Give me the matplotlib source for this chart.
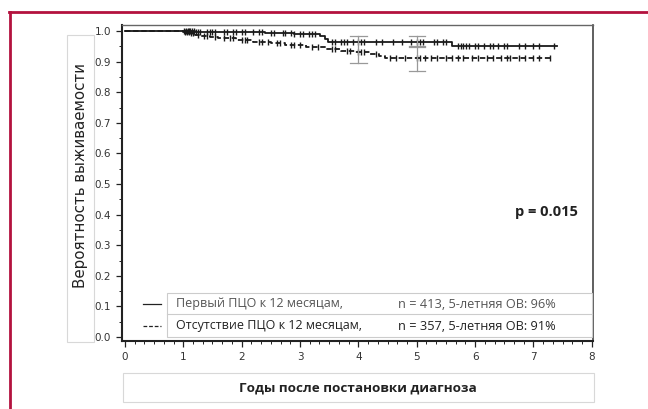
import matplotlib.pyplot as plt
from matplotlib.ticker import MultipleLocator
from matplotlib.patches import Rectangle
from matplotlib.lines import Line2D

# Kaplan-Meier steps, group 1 (first PCR by 12 months)
g1_time = [0, 1.2, 1.8, 2.4, 2.9, 3.35, 3.42, 3.48, 5.6, 7.4]
g1_surv = [1.0, 0.998, 0.996, 0.993, 0.99, 0.985, 0.975, 0.964, 0.951, 0.951]
g1_cens = [1.02, 1.05, 1.08, 1.1, 1.12, 1.15, 1.18, 1.22, 1.25, 1.28, 1.4, 1.45,
           1.5, 1.55, 1.7, 1.75, 1.85, 1.9, 2.0, 2.05, 2.2, 2.3, 2.35, 2.5, 2.55,
           2.7, 2.75, 2.85, 2.9, 3.0, 3.05, 3.15, 3.2, 3.25, 3.55, 3.6, 3.7,
           3.75, 3.8, 3.9, 4.0, 4.05, 4.1, 4.3, 4.4, 4.6, 4.75, 4.9, 5.0, 5.05,
           5.1, 5.3, 5.35, 5.45, 5.5, 5.7, 5.75, 5.8, 5.85, 5.9, 6.0, 6.05, 6.15,
           6.25, 6.3, 6.4, 6.5, 6.55, 6.75, 6.85, 7.0, 7.1, 7.35]

# group 2 (no PCR by 12 months)
g2_time = [0, 1.0, 1.1, 1.2, 1.3, 1.45, 1.6, 1.9, 2.2, 2.5, 2.75, 3.1, 3.45,
           3.7, 3.95, 4.2, 4.35, 4.45, 7.3]
g2_surv = [1.0, 0.996, 0.992, 0.988, 0.984, 0.98, 0.976, 0.97, 0.965, 0.96,
           0.955, 0.948, 0.94, 0.935, 0.93, 0.925, 0.918, 0.912, 0.912]
g2_cens = [1.03, 1.06, 1.09, 1.13, 1.16, 1.25, 1.35, 1.4, 1.55, 1.7, 1.8, 1.85,
           2.0, 2.05, 2.1, 2.3, 2.35, 2.45, 2.6, 2.65, 2.85, 2.9, 3.0, 3.2, 3.3,
           3.55, 3.6, 3.8, 3.85, 4.0, 4.05, 4.1, 4.3, 4.55, 4.65, 4.8, 5.0,
           5.05, 5.15, 5.25, 5.35, 5.5, 5.6, 5.7, 5.8, 5.95, 6.05, 6.2, 6.3,
           6.45, 6.55, 6.6, 6.75, 6.85, 7.0, 7.1, 7.28]

# confidence bars: x, low, high
ci_x = [4.0, 5.0, 5.0]
ci_low = [0.895, 0.948, 0.87]
ci_high = [0.984, 0.984, 0.95]

legend_names = ['Первый ПЦО к 12 месяцам,', 'Отсутствие ПЦО к 12 месяцам,']
legend_stats = ['n = 413, 5-летняя ОВ: 96%', 'n = 357, 5-летняя ОВ: 91%']

W, H = 648, 409
fig = plt.figure(figsize=(6.48, 4.09), dpi=100)

def fx(px):
    return px / W

def fy(py):
    return 1 - py / H

ax = fig.add_axes([fx(122), fy(341), fx(593) - fx(122), fy(25) - fy(341)])

def step_of(t, s):
    # value of the step function at time x
    v = s[0]
    for ti, si in zip(t, s):
        if ti <= x:
            v = si
    return v

ax.step(g1_time, g1_surv, where='post', color='#1a1a1a', lw=1.3)
ax.step(g2_time, g2_surv, where='post', color='#1a1a1a', lw=1.3, ls=(0, (3, 1.5)))

for cens, t, s in [(g1_cens, g1_time, g1_surv), (g2_cens, g2_time, g2_surv)]:
    ys = []
    for x in cens:
        ys.append(step_of(t, s))
    ax.plot(cens, ys, ls='none', marker='|', ms=5, mew=1.0, color='#1a1a1a')

for x, lo, hi in zip(ci_x, ci_low, ci_high):
    ax.plot([x, x], [lo, hi], color='#999999', lw=0.9)
    ax.plot([x - 0.14, x + 0.14], [lo, lo], color='#999999', lw=0.9)
    ax.plot([x - 0.14, x + 0.14], [hi, hi], color='#999999', lw=0.9)

ax.set_xlim(-0.05, 8.02)
ax.set_ylim(-0.013, 1.0196)
ax.xaxis.set_major_locator(MultipleLocator(1))
ax.xaxis.set_minor_locator(MultipleLocator(1 / 6))
ax.yaxis.set_minor_locator(MultipleLocator(0.05))
ax.set_yticks([i / 10 for i in range(11)])
ax.set_yticklabels([f'{i / 10:.1f}' for i in range(11)])
ax.tick_params(which='major', length=4, width=0.9, colors='#222222',
               labelsize=7.5, labelcolor='#333333', pad=4)
ax.tick_params(which='minor', length=2.5, width=0.7, colors='#222222')

for side in ['left', 'bottom']:
    ax.spines[side].set_color('#222222')
    ax.spines[side].set_linewidth(1.5)
ax.spines['right'].set_color('#444444')
ax.spines['right'].set_linewidth(1.2)
ax.spines['top'].set_color('#666666')
ax.spines['top'].set_linewidth(1.0)

ax.text(fx(515), fy(212), 'p = 0.015', transform=fig.transFigure,
        fontsize=10.5, fontweight='bold', family='Open Sans',
        color='#222222', va='center', ha='left')

# legend
fig.add_artist(Rectangle((fx(167), fy(337)), fx(592) - fx(167), fy(293) - fy(337),
                         transform=fig.transFigure, fill=False,
                         ec='#cccccc', lw=0.8))
fig.add_artist(Line2D([fx(167), fx(592)], [fy(314), fy(314)],
                      transform=fig.transFigure, color='#cccccc', lw=0.8))
row_y = [304, 326]
row_ls = ['-', (0, (3, 1.5))]
row_col = ['#555555', '#222222']
for i in range(2):
    fig.add_artist(Line2D([fx(143), fx(161)], [fy(row_y[i]), fy(row_y[i])],
                          transform=fig.transFigure, color='#222222', lw=0.9,
                          ls=row_ls[i]))
    fig.text(fx(176), fy(row_y[i]), legend_names[i], fontsize=9,
             family='Open Sans', color=row_col[i], va='center')
    fig.text(fx(398), fy(row_y[i]), legend_stats[i], fontsize=9.2,
             family='Open Sans', color=row_col[i], va='center')

# axis title boxes
fig.add_artist(Rectangle((fx(67), fy(342)), fx(94) - fx(67), fy(35) - fy(342),
                         transform=fig.transFigure, fill=False,
                         ec='#d8d8d8', lw=0.8))
fig.text(fx(80.5), fy(176), 'Вероятность выживаемости', rotation=90,
         fontsize=10.8, family='DejaVu Sans', color='#222222',
         ha='center', va='center')
fig.add_artist(Rectangle((fx(123), fy(402)), fx(594) - fx(123), fy(373) - fy(402),
                         transform=fig.transFigure, fill=False,
                         ec='#d8d8d8', lw=0.8))
fig.text(fx(358), fy(388), 'Годы после постановки диагноза',
         fontsize=9.7, fontweight='bold', family='Open Sans', color='#222222',
         ha='center', va='center')

# red page frame
red = '#b3123e'
fig.add_artist(Line2D([fx(10), fx(10)], [0, fy(12)], transform=fig.transFigure,
                      color=red, lw=2))
fig.add_artist(Line2D([fx(9), 1], [fy(12), fy(12)], transform=fig.transFigure,
                      color=red, lw=2))

fig.savefig('out.png', dpi=100)
